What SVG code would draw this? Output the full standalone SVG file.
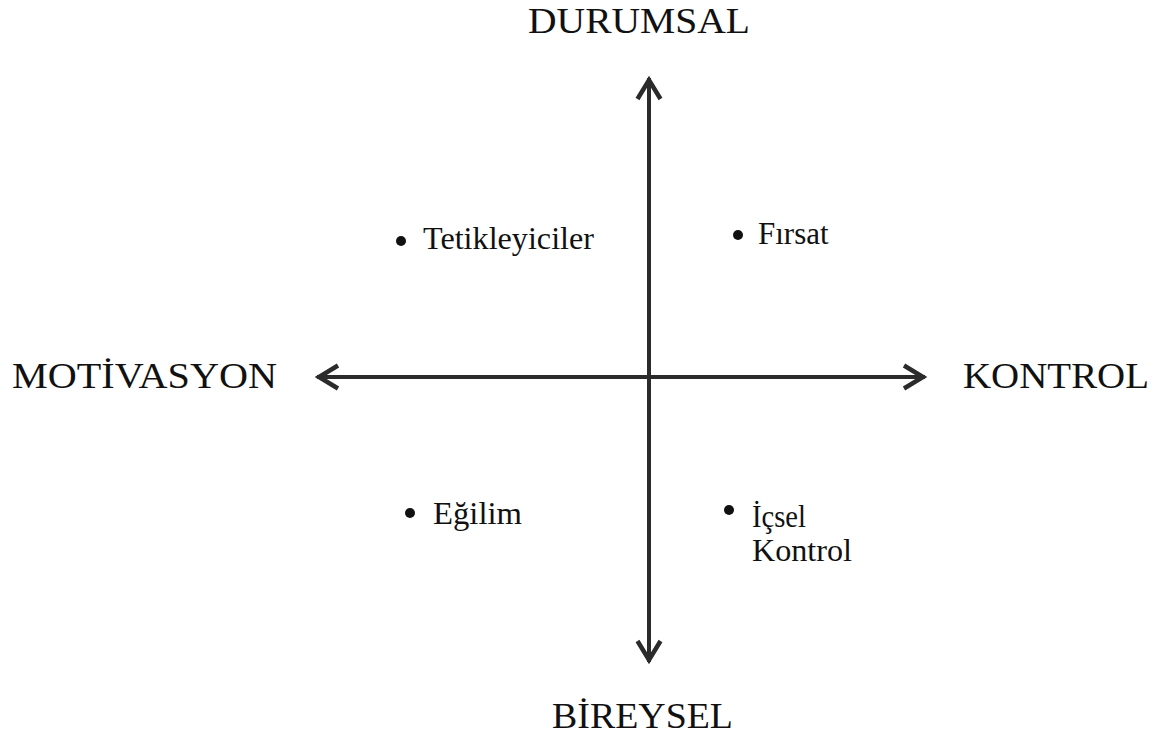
<svg xmlns="http://www.w3.org/2000/svg" width="1160" height="741" viewBox="0 0 1160 741">
  <style>
    .axis { stroke: #2b2b2b; stroke-width: 4; fill: none; }
    .head { stroke: #2b2b2b; stroke-width: 4.5; fill: none; stroke-linejoin: miter; stroke-linecap: butt; }
    .label { font-family: "Liberation Serif", "DejaVu Serif", serif; font-size: 36px; fill: #111; }
    .item { font-family: "Liberation Serif", "DejaVu Serif", serif; font-size: 31px; fill: #111; }
    .dot { fill: #111; }
  </style>
  <defs>
    <marker id="chevron" markerUnits="userSpaceOnUse" viewBox="-30 -16 34 32" markerWidth="34" markerHeight="32" refX="-1" refY="0" orient="auto-start-reverse" overflow="visible">
      <path class="head" d="M -22 -11.5 L -3 0 L -22 11.5"/>
    </marker>
  </defs>

  <rect width="1160" height="741" fill="#ffffff"/>

  <!-- axes -->
  <g id="connectors">
    <line class="axis" x1="649" y1="78" x2="649" y2="662" marker-start="url(#chevron)" marker-end="url(#chevron)"/>
    <line class="axis" x1="317" y1="377" x2="925" y2="377" marker-start="url(#chevron)" marker-end="url(#chevron)"/>
  </g>

  <!-- axis labels -->
  <g id="durumsal"><text class="label" x="528" y="33" textLength="222" lengthAdjust="spacingAndGlyphs">DURUMSAL</text></g>
  <g id="bireysel"><text class="label" x="552" y="728" textLength="181" lengthAdjust="spacingAndGlyphs">BİREYSEL</text></g>
  <g id="motivasyon"><text class="label" x="12" y="388" textLength="265" lengthAdjust="spacingAndGlyphs">MOTİVASYON</text></g>
  <g id="kontrol"><text class="label" x="963" y="388" textLength="186" lengthAdjust="spacingAndGlyphs">KONTROL</text></g>

  <!-- quadrant items -->
  <g id="tetikleyiciler">
    <circle class="dot" cx="401" cy="241" r="5"/>
    <text class="item" x="423" y="249" textLength="171" lengthAdjust="spacingAndGlyphs">Tetikleyiciler</text>
  </g>
  <g id="firsat">
    <circle class="dot" cx="738" cy="235" r="5"/>
    <text class="item" x="758" y="244">Fırsat</text>
  </g>
  <g id="egilim">
    <circle class="dot" cx="410" cy="513" r="5"/>
    <text class="item" x="433" y="524" textLength="89" lengthAdjust="spacingAndGlyphs">Eğilim</text>
  </g>
  <g id="icsel-kontrol">
    <circle class="dot" cx="729" cy="510" r="5"/>
    <text class="item" x="752" y="527" textLength="54" lengthAdjust="spacingAndGlyphs">İçsel</text>
    <text class="item" x="752" y="561" textLength="100" lengthAdjust="spacingAndGlyphs">Kontrol</text>
  </g>
</svg>
